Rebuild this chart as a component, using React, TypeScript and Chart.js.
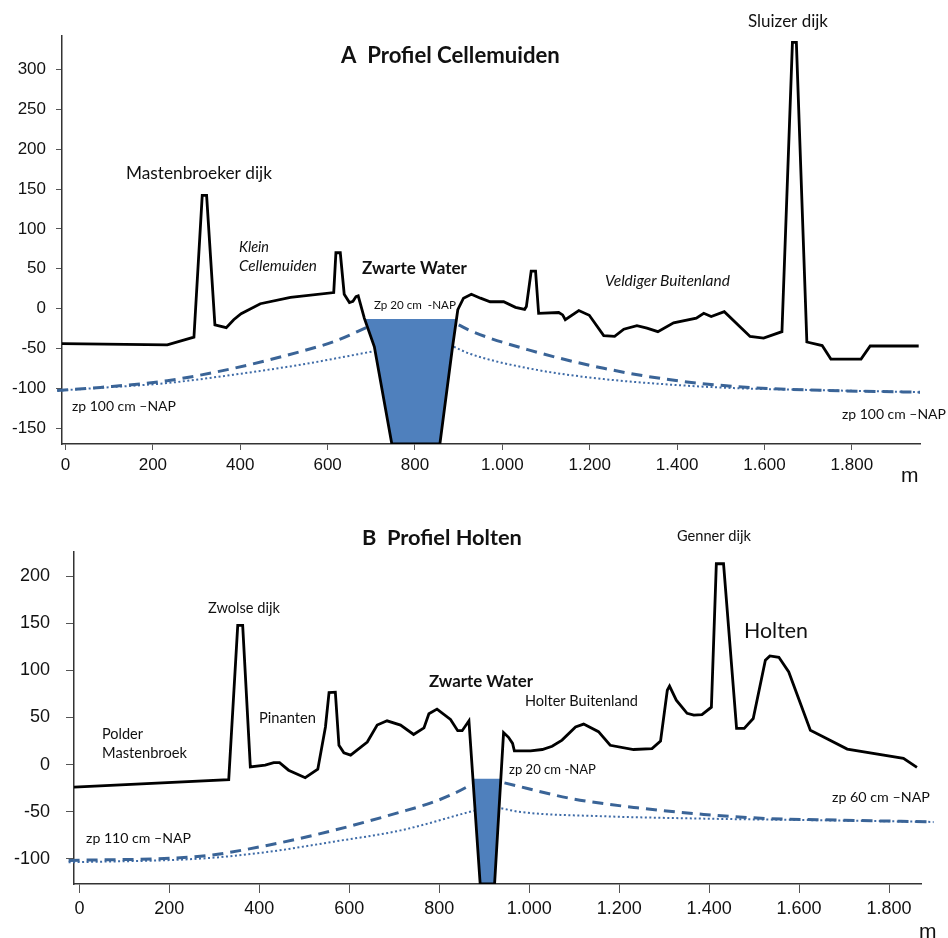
import React, { useEffect, useRef } from "react";
import { Chart, registerables } from "chart.js";
Chart.register(...registerables);

// ---------- Panel A: Profiel Cellemuiden ----------
const xTicksA = [0, 200, 400, 600, 800, 1000, 1200, 1400, 1600, 1800];
const yTicksA = [-150, -100, -50, 0, 50, 100, 150, 200, 250, 300];

const profileA_x = [-8, 233, 294, 313, 323, 342, 368, 385, 402, 446, 515, 614, 619, 629, 638, 650, 658, 665, 670, 684, 707, 747, 857, 885, 898, 911, 929, 950, 972, 1003, 1030, 1051, 1055, 1066, 1076, 1083, 1129, 1138, 1144, 1175, 1199, 1232, 1257, 1278, 1308, 1331, 1356, 1392, 1444, 1461, 1478, 1508, 1567, 1598, 1640, 1664, 1673, 1697, 1732, 1752, 1821, 1842, 1953];
const profileA_y = [-44, -45.5, -36, 142, 142, -20.5, -24, -14, -6.5, 6, 14, 20, 70, 70, 18, 7.5, 9, 15, 16, -12, -48, -170, -170, -52, -1.5, 13, 18, 13, 8.5, 8.5, 1.5, -1, 2.5, 47, 47, -6, -5, -8, -14, -2.5, -8.5, -34, -35, -26, -21.5, -24.5, -29, -18, -12, -6, -10, -4, -35, -37, -29, 334, 334, -42, -46.5, -63.5, -63.5, -47, -47];

const waterA_x = [685, 707, 747, 857, 885, 895];
const waterA_y = [-13, -48, -170, -170, -52, -13];

const dashA_left_x = [-19, 80, 233, 385, 538, 614, 697];
const dashA_left_y = [-103, -99, -90.5, -75, -54, -41.5, -22];
const dashA_right_x = [900, 927, 1064, 1232, 1385, 1537, 1690, 1956];
const dashA_right_y = [-20.5, -28, -52.5, -75, -89.5, -98, -102, -105];
const dotA_left_x = [-19, 80, 233, 385, 538, 702];
const dotA_left_y = [-103, -99.5, -93.5, -83, -70.5, -54];
const dotA_right_x = [889, 927, 1079, 1232, 1385, 1537, 1690, 1956];
const dotA_right_y = [-48, -57, -77, -88.5, -95.5, -100, -102, -105];

// ---------- Panel B: Profiel Holten ----------
const xTicksB = [0, 200, 400, 600, 800, 1000, 1200, 1400, 1600, 1800];
const yTicksB = [-100, -50, 0, 50, 100, 150, 200];

const profileB_x = [-12, 332, 352, 363, 380, 413, 432, 445, 465, 502, 530, 547, 555, 569, 577, 588, 603, 640, 662, 684, 714, 743, 766, 777, 795, 825, 841, 851, 866, 891, 923, 943, 954, 963, 967, 1003, 1029, 1051, 1073, 1103, 1121, 1154, 1180, 1232, 1273, 1292, 1307, 1312, 1327, 1351, 1366, 1384, 1405, 1416, 1432, 1461, 1478, 1498, 1525, 1535, 1555, 1577, 1625, 1648, 1707, 1832, 1862];
const profileB_y = [-24, -16, 148, 148, -2.5, -0.5, 2, 2, -6, -14, -5, 40, 76.5, 77, 20.5, 12.5, 10, 24, 42, 46.5, 42, 32, 39, 54, 59, 48, 36, 36, 46.5, -127, -127, 34, 29, 22.5, 14.5, 14.5, 16, 19.5, 26, 40, 43, 35, 20.5, 16, 17, 25, 79, 83.5, 68.5, 54.5, 52.5, 53, 61, 213.5, 213.5, 38.5, 38.5, 49, 111, 115.5, 114, 98.5, 36.5, 31, 16.5, 6.5, -3];

const waterB_x = [875, 891, 923, 937];
const waterB_y = [-15, -127, -127, -15];

const dashB_left_x = [-24, 269, 417, 565, 714, 780, 825, 873];
const dashB_left_y = [-102, -97.5, -86, -70, -50.5, -41, -32.5, -21];
const dashB_right_x = [945, 1092, 1240, 1388, 1536, 1684, 1899];
const dashB_right_y = [-19.5, -36, -46, -53, -57.5, -59, -61];
const dotB_left_x = [-24, 269, 417, 565, 714, 877];
const dotB_left_y = [-104, -100, -93, -82, -70, -49];
const dotB_right_x = [938, 958, 981, 1167, 1389, 1612, 1899];
const dotB_right_y = [-46.5, -48.5, -50.5, -55, -57.5, -59, -61];

// ---------- Text labels (page pixel positions) ----------
type Label = { t: string; x: number; y: number; w?: number; size?: number; bold?: boolean; italic?: boolean; family?: string };

const labelsA: Label[] = [
  { t: "A  Profiel Cellemuiden", x: 341, y: 56, w: 219, bold: true },
  { t: "Mastenbroeker dijk", x: 126, y: 173, w: 146 },
  { t: "Klein", x: 239, y: 247, w: 30, italic: true },
  { t: "Cellemuiden", x: 239, y: 266, w: 78, italic: true },
  { t: "Zwarte Water", x: 362, y: 269, w: 105, bold: true },
  { t: "Zp 20 cm  -NAP", x: 374, y: 305, w: 82 },
  { t: "zp 100 cm \u2013NAP", x: 72, y: 406, w: 104 },
  { t: "Veldiger Buitenland", x: 605, y: 281, w: 125, italic: true },
  { t: "Sluizer dijk", x: 748, y: 22, w: 80 },
  { t: "zp 100 cm \u2013NAP", x: 842, y: 414, w: 104 },
  { t: "m", x: 901, y: 476, size: 21, family: "'Liberation Sans', Arial, sans-serif" },
];

const labelsB: Label[] = [
  { t: "B  Profiel Holten", x: 362, y: 537.5, w: 160, bold: true },
  { t: "Genner dijk", x: 677, y: 536, w: 74 },
  { t: "Zwolse dijk", x: 208, y: 608, w: 72 },
  { t: "Holten", x: 744, y: 631, w: 64 },
  { t: "Polder", x: 102, y: 734, w: 41 },
  { t: "Mastenbroek", x: 102, y: 753, w: 85 },
  { t: "Pinanten", x: 259, y: 718, w: 57 },
  { t: "Zwarte Water", x: 429, y: 682, w: 104, bold: true },
  { t: "Holter Buitenland", x: 525, y: 701, w: 113 },
  { t: "zp 20 cm -NAP", x: 509, y: 769.5, w: 87 },
  { t: "zp 60 cm \u2013NAP", x: 832, y: 797, w: 98 },
  { t: "zp 110 cm \u2013NAP", x: 86, y: 838, w: 105 },
  { t: "m", x: 919, y: 932, size: 21, family: "'Liberation Sans', Arial, sans-serif" },
];

const pts = (xs: number[], ys: number[]) => xs.map((x, i) => ({ x, y: ys[i] }));
const fmtX = (v: number) => String(v).replace(/\B(?=(\d{3})+(?!\d))/g, ".");

const textPlugin = {
  id: "panelText",
  afterDraw(chart: any, _args: any, opts: any) {
    const ctx = chart.ctx as CanvasRenderingContext2D;
    for (const a of opts.items as Label[]) {
      ctx.save();
      const fam = a.family || "Lato, 'Open Sans', sans-serif";
      const st = `${a.italic ? "italic " : ""}${a.bold ? "bold " : ""}`;
      let size = a.size || 16;
      if (a.w) {
        ctx.font = `${st}100px ${fam}`;
        const w100 = ctx.measureText(a.t).width;
        size = (100 * a.w) / w100;
      }
      ctx.font = `${st}${size}px ${fam}`;
      ctx.fillStyle = "#111";
      ctx.textAlign = "left";
      ctx.textBaseline = "middle";
      ctx.fillText(a.t, a.x, a.y - opts.offsetY);
      ctx.restore();
    }
  },
};

type Panel = {
  xMin: number; xMax: number; yMin: number; yMax: number;
  xTicks: number[]; yTicks: number[];
  profile: { x: number; y: number }[];
  water: { x: number; y: number }[];
  dashes: { x: number; y: number }[][];
  dots: { x: number; y: number }[][];
  padTop: number; padRight: number; yW: number; xH: number;
  yTickLen: number; yPad: number; xTickLen: number; xPad: number; fontSize: number;
  labels: Label[]; offsetY: number;
};

const DASH = "#3A6497";
const DOT = "#3E6BA7";
const WATER = "#4F80BD";

function buildConfig(p: Panel): any {
  const lineBase = { pointRadius: 0, pointHoverRadius: 0, fill: false };
  const datasets: any[] = [
    { ...lineBase, data: p.profile, borderColor: "#000", borderWidth: 2.8, tension: 0 },
    ...p.dashes.map((d) => ({ ...lineBase, data: d, borderColor: DASH, borderWidth: 3, borderDash: [11, 7], cubicInterpolationMode: "monotone", clip: false })),
    ...p.dots.map((d) => ({ ...lineBase, data: d, borderColor: DOT, borderWidth: 2, borderDash: [2, 2.5], cubicInterpolationMode: "monotone", clip: false })),
    { ...lineBase, data: p.water, borderWidth: 0, borderColor: "rgba(0,0,0,0)", backgroundColor: WATER, fill: "shape", tension: 0 },
  ];
  const tickFont = { family: "'Liberation Sans', Arial, sans-serif", size: p.fontSize };
  return {
    type: "line",
    data: { datasets },
    options: {
      responsive: false,
      animation: false,
      devicePixelRatio: 1,
      events: [],
      layout: { padding: { left: 0, top: p.padTop, right: p.padRight, bottom: 0 } },
      plugins: {
        legend: { display: false },
        tooltip: { enabled: false },
        panelText: { items: p.labels, offsetY: p.offsetY },
      },
      scales: {
        x: {
          type: "linear",
          min: p.xMin,
          max: p.xMax,
          afterBuildTicks: (s: any) => { s.ticks = p.xTicks.map((v) => ({ value: v })); },
          afterFit: (s: any) => { s.height = p.xH; },
          grid: { drawOnChartArea: false, drawTicks: true, tickLength: p.xTickLen, color: "#555", lineWidth: 1 },
          border: { display: true, color: "#333", width: 1.5 },
          ticks: { callback: (v: number) => fmtX(v), font: tickFont, color: "#111", padding: p.xPad, maxRotation: 0, autoSkip: false },
        },
        y: {
          type: "linear",
          min: p.yMin,
          max: p.yMax,
          afterBuildTicks: (s: any) => { s.ticks = p.yTicks.map((v) => ({ value: v })); },
          afterFit: (s: any) => { s.width = p.yW; },
          grid: { drawOnChartArea: false, drawTicks: true, tickLength: p.yTickLen, color: "#555", lineWidth: 1 },
          border: { display: true, color: "#333", width: 1.5 },
          ticks: { callback: (v: number) => String(v), font: tickFont, color: "#111", padding: p.yPad, autoSkip: false },
        },
      },
    },
    plugins: [textPlugin],
  };
}

const panelA: Panel = {
  xMin: -8, xMax: 1956, yMin: -170, yMax: 342,
  xTicks: xTicksA, yTicks: yTicksA,
  profile: pts(profileA_x, profileA_y),
  water: pts(waterA_x, waterA_y),
  dashes: [pts(dashA_left_x, dashA_left_y), pts(dashA_right_x, dashA_right_y)],
  dots: [pts(dotA_left_x, dotA_left_y), pts(dotA_right_x, dotA_right_y)],
  padTop: 36, padRight: 28, yW: 62, xH: 44,
  yTickLen: 6, yPad: 10, xTickLen: 6, xPad: 5, fontSize: 17,
  labels: labelsA, offsetY: 0,
};

const panelB: Panel = {
  xMin: -12, xMax: 1871, yMin: -127, yMax: 226,
  xTicks: xTicksB, yTicks: yTicksB,
  profile: pts(profileB_x, profileB_y),
  water: pts(waterB_x, waterB_y),
  dashes: [pts(dashB_left_x, dashB_left_y), pts(dashB_right_x, dashB_right_y)],
  dots: [pts(dotB_left_x, dotB_left_y), pts(dotB_right_x, dotB_right_y)],
  padTop: 62, padRight: 27, yW: 74, xH: 54,
  yTickLen: 8, yPad: 16, xTickLen: 9, xPad: 5, fontSize: 18,
  labels: labelsB, offsetY: 490,
};

export default function App() {
  const refA = useRef<HTMLCanvasElement>(null);
  const refB = useRef<HTMLCanvasElement>(null);
  useEffect(() => {
    const a = new Chart(refA.current as HTMLCanvasElement, buildConfig(panelA));
    const b = new Chart(refB.current as HTMLCanvasElement, buildConfig(panelB));
    return () => { a.destroy(); b.destroy(); };
  }, []);
  return (
    <div style={{ position: "absolute", left: 0, top: 0, width: 948, height: 938, background: "#fff" }}>
      <canvas ref={refA} width={948} height={488} style={{ position: "absolute", left: 0, top: 0, width: 948, height: 488 }} />
      <canvas ref={refB} width={948} height={448} style={{ position: "absolute", left: 0, top: 490, width: 948, height: 448 }} />
    </div>
  );
}
